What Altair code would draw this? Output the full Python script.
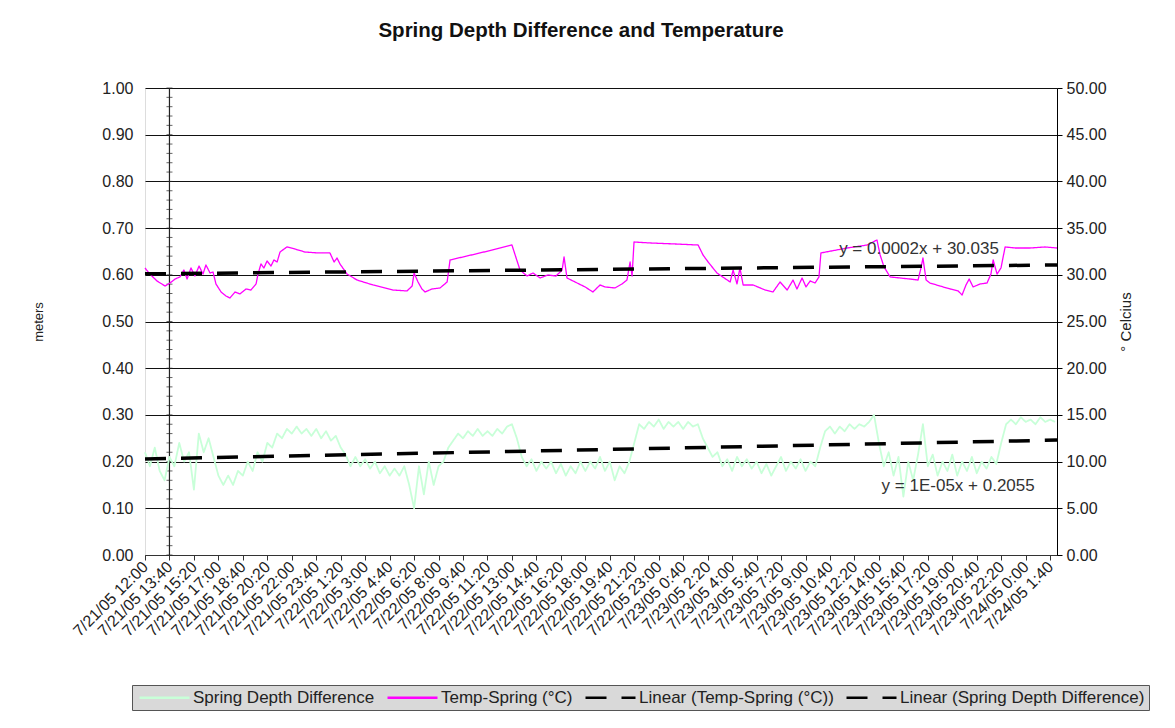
import json
import altair as alt
import pandas as pd

# ---------------- data ----------------
tick_labels = [
    "7/21/05 12:00", "7/21/05 13:40", "7/21/05 15:20", "7/21/05 17:00", "7/21/05 18:40",
    "7/21/05 20:20", "7/21/05 22:00", "7/21/05 23:40", "7/22/05 1:20", "7/22/05 3:00",
    "7/22/05 4:40", "7/22/05 6:20", "7/22/05 8:00", "7/22/05 9:40", "7/22/05 11:20",
    "7/22/05 13:00", "7/22/05 14:40", "7/22/05 16:20", "7/22/05 18:00", "7/22/05 19:40",
    "7/22/05 21:20", "7/22/05 23:00", "7/23/05 0:40", "7/23/05 2:20", "7/23/05 4:00",
    "7/23/05 5:40", "7/23/05 7:20", "7/23/05 9:00", "7/23/05 10:40", "7/23/05 12:20",
    "7/23/05 14:00", "7/23/05 15:40", "7/23/05 17:20", "7/23/05 19:00", "7/23/05 20:40",
    "7/23/05 22:20", "7/24/05 0:00", "7/24/05 1:40",
]
tick_minutes = [100 * i for i in range(len(tick_labels))]  # minutes after 7/21/05 12:00
x_end_minute = 3728

# Spring Depth Difference (meters), sampled every 20 minutes
depth_values = [
    0.22, 0.19, 0.23, 0.18, 0.16, 0.21, 0.19, 0.24, 0.20, 0.22,
    0.14, 0.26, 0.22, 0.25, 0.21, 0.17, 0.15, 0.17, 0.15, 0.18,
    0.17, 0.20, 0.18, 0.22, 0.20, 0.24, 0.23, 0.26, 0.25, 0.27,
    0.26, 0.275, 0.26, 0.27, 0.255, 0.27, 0.25, 0.265, 0.245, 0.255,
    0.23, 0.215, 0.19, 0.21, 0.19, 0.205, 0.185, 0.20, 0.175, 0.19,
    0.17, 0.185, 0.17, 0.19, 0.15, 0.10, 0.19, 0.13, 0.20, 0.15,
    0.19, 0.20, 0.23, 0.245, 0.26, 0.25, 0.265, 0.255, 0.27, 0.255,
    0.265, 0.255, 0.27, 0.26, 0.275, 0.28, 0.25, 0.21, 0.19, 0.205,
    0.18, 0.20, 0.185, 0.20, 0.175, 0.195, 0.17, 0.19, 0.175, 0.20,
    0.18, 0.20, 0.185, 0.21, 0.18, 0.20, 0.16, 0.19, 0.175, 0.20,
    0.24, 0.28, 0.27, 0.285, 0.275, 0.29, 0.27, 0.285, 0.275, 0.285,
    0.27, 0.285, 0.275, 0.28, 0.25, 0.23, 0.21, 0.22, 0.19, 0.205,
    0.18, 0.21, 0.19, 0.205, 0.185, 0.20, 0.175, 0.195, 0.17, 0.19,
    0.21, 0.18, 0.20, 0.185, 0.205, 0.18, 0.20, 0.19, 0.23, 0.265,
    0.275, 0.26, 0.275, 0.265, 0.28, 0.27, 0.28, 0.275, 0.285, 0.30,
    0.24, 0.19, 0.22, 0.17, 0.21, 0.125, 0.20, 0.16, 0.215, 0.28,
    0.19, 0.215, 0.17, 0.20, 0.18, 0.215, 0.17, 0.20, 0.18, 0.21,
    0.175, 0.20, 0.185, 0.21, 0.195, 0.24, 0.28, 0.29, 0.28, 0.295,
    0.285, 0.29, 0.28, 0.295, 0.285, 0.29, 0.285,
]
depth_minutes = [20 * i for i in range(len(depth_values))]

# Temp-Spring (deg C), read at irregular minutes
temp_minutes = [
    0, 20, 49, 82, 102, 123, 143, 159, 172, 188, 204, 221, 237, 249, 266, 278, 290, 311, 331, 347,
    368, 388, 413, 433, 454, 462, 474, 486, 499, 515, 527, 540, 552, 580, 613, 654, 707, 756, 773, 785,
    797, 826, 867, 932, 1014, 1071, 1092, 1100, 1116, 1132, 1145, 1173, 1206, 1235, 1247, 1370, 1500, 1517, 1533, 1562,
    1586, 1615, 1647, 1680, 1705, 1713, 1725, 1758, 1799, 1831, 1860, 1881, 1921, 1950, 1970, 1983, 1991, 1999, 2064, 2167,
    2261, 2281, 2302, 2338, 2392, 2404, 2420, 2432, 2445, 2486, 2535, 2567, 2596, 2625, 2649, 2665, 2686, 2702, 2719, 2739,
    2755, 2763, 2870, 2952, 2992, 3005, 3021, 3046, 3086, 3127, 3160, 3172, 3180, 3193, 3209, 3250, 3291, 3324, 3340, 3356,
    3369, 3385, 3414, 3442, 3458, 3467, 3483, 3499, 3516, 3557, 3618, 3679, 3728,
]
temp_values = [
    30.73, 30.08, 29.34, 28.80, 29.12, 29.55, 29.77, 30.51, 29.55, 30.73, 29.87, 30.94, 30.08, 31.05, 30.19, 30.30, 29.02, 28.16, 27.73, 27.52,
    28.16, 27.95, 28.48, 28.37, 29.02, 30.08, 31.16, 30.73, 31.48, 30.94, 31.59, 31.37, 32.44, 32.98, 32.76, 32.44, 32.34, 32.34, 31.37, 31.80,
    31.16, 30.08, 29.44, 28.91, 28.37, 28.27, 28.80, 30.19, 29.23, 28.48, 28.16, 28.48, 28.59, 29.23, 31.59, 32.34, 33.19, 31.80, 30.51, 29.87,
    30.19, 29.66, 29.98, 29.87, 30.51, 31.91, 29.66, 29.23, 28.70, 28.16, 28.91, 28.70, 28.59, 29.02, 29.44, 31.37, 29.87, 33.51, 33.41, 33.30,
    33.19, 32.12, 31.37, 30.19, 29.23, 30.51, 29.02, 30.73, 28.91, 28.91, 28.37, 28.16, 29.23, 28.37, 29.44, 28.48, 29.66, 28.70, 29.34, 29.12,
    29.77, 32.34, 32.87, 33.19, 33.73, 32.12, 30.84, 29.77, 29.66, 29.55, 29.44, 30.73, 31.80, 29.44, 29.12, 28.80, 28.48, 28.27, 27.84, 28.91,
    29.55, 28.70, 29.02, 29.12, 30.08, 31.59, 30.08, 30.73, 32.98, 32.87, 32.87, 32.98, 32.87,
]

# Linear trend lines (end points)
trend_minutes = [0, x_end_minute]
temp_trend_values = [30.1, 31.05]
depth_trend_values = [0.2055, 0.246]

# Trend equation labels
temp_eq_text = "y = 0.0002x + 30.035"
temp_eq_pos = [3164, 32.76]
depth_eq_text = "y = 1E-05x + 0.2055"
depth_eq_pos = [3324, 0.148]

series_names = [
    "Spring Depth Difference",
    "Temp-Spring (°C)",
    "Linear (Temp-Spring (°C))",
    "Linear (Spring Depth Difference)",
]
series_colors = ["#c8ffd8", "#ff00ff", "#000000", "#000000"]
series_dash = [[1, 0], [1, 0], [21, 15], [21, 15]]

left_ticks = [0.0, 0.1, 0.2, 0.3, 0.4, 0.5, 0.6, 0.7, 0.8, 0.9, 1.0]
right_ticks = [0, 5, 10, 15, 20, 25, 30, 35, 40, 45, 50]
minor_ticks = [round(0.02 * i, 2) for i in range(51)]
value_axis_minute = 100  # the value axis crosses at 7/21/05 13:40

# ---------------- tables ----------------
depth_df = pd.DataFrame({"minute": depth_minutes, "value": depth_values, "series": series_names[0]})
temp_df = pd.DataFrame({"minute": temp_minutes, "value": temp_values, "series": series_names[1]})
temp_trend_df = pd.DataFrame({"minute": trend_minutes, "value": temp_trend_values, "series": series_names[2]})
depth_trend_df = pd.DataFrame({"minute": trend_minutes, "value": depth_trend_values, "series": series_names[3]})
minor_df = pd.DataFrame({"minute": value_axis_minute, "value": minor_ticks})
vline_df = pd.DataFrame({"minute": [value_axis_minute], "lo": [0.0], "hi": [1.0]})
temp_eq_df = pd.DataFrame({"minute": [temp_eq_pos[0]], "value": [temp_eq_pos[1]], "text": [temp_eq_text]})
depth_eq_df = pd.DataFrame({"minute": [depth_eq_pos[0]], "value": [depth_eq_pos[1]], "text": [depth_eq_text]})

FONT = "Liberation Sans"

label_expr = json.dumps(tick_labels) + "[round(datum.value / 100)]"
x_axis = alt.Axis(
    values=tick_minutes, labelExpr=label_expr, title=None, labelAngle=315,
    labelAlign="right", labelBaseline="middle", labelPadding=4, labelOverlap=False,
    labelFlush=False, labelBound=False, labelFontSize=16, labelColor="#222", labelFont=FONT,
    domainColor="#333", tickColor="#333", tickSize=5, grid=False,
)
x_enc = alt.X("minute:Q", scale=alt.Scale(domain=[0, x_end_minute], nice=False, zero=False), axis=x_axis)

legend = alt.Legend(
    orient="none", legendX=-13, legendY=597, direction="horizontal", title=None,
    fillColor="#d9d9d9", strokeColor="#555", padding=4, symbolType="M-1,0H9",
    symbolSize=100, symbolStrokeWidth=2.5, labelFontSize=17, labelFont=FONT,
    labelColor="#222", labelOffset=40, columnPadding=7, labelLimit=400,
)
color_enc = alt.Color("series:N", scale=alt.Scale(domain=series_names, range=series_colors), legend=legend)
dash_enc = alt.StrokeDash("series:N", scale=alt.Scale(domain=series_names, range=series_dash), legend=legend)

left_y = alt.Y(
    "value:Q", scale=alt.Scale(domain=[0, 1], nice=False, zero=True),
    axis=alt.Axis(
        values=left_ticks, format=".2f", title="meters", orient="left", domain=False,
        ticks=False, labelPadding=12, labelFontSize=16, labelFont=FONT, labelColor="#222",
        grid=True, gridColor="#111", gridWidth=1, titleFontSize=13, titleFont=FONT,
        titleFontWeight="normal", titleColor="#222", titlePadding=56,
    ),
)
right_y = alt.Y(
    "value:Q", scale=alt.Scale(domain=[0, 50], nice=False, zero=True),
    axis=alt.Axis(
        values=right_ticks, format=".2f", title="° Celcius", orient="right", domain=True,
        domainColor="#000", tickColor="#000", tickSize=5, labelPadding=4, labelFontSize=16,
        labelFont=FONT, labelColor="#222", grid=False, titleFontSize=15, titleFont=FONT,
        titleFontWeight="normal", titleColor="#222", titleAngle=270, titlePadding=27,
    ),
)

def series_line(df, y, width):
    return alt.Chart(df).mark_line(strokeJoin="round", strokeWidth=width).encode(
        x=x_enc, y=y, color=color_enc, strokeDash=dash_enc)

depth_line = series_line(depth_df, left_y, 1.8)
depth_trend = series_line(depth_trend_df, left_y, 3.5)
vline = alt.Chart(vline_df).mark_rule(color="#222", strokeWidth=1.2).encode(
    x=x_enc, y="lo:Q", y2="hi:Q")
minor = alt.Chart(minor_df).mark_tick(orient="horizontal", size=6, thickness=1, color="#222").encode(
    x=x_enc, y=left_y)
depth_eq = alt.Chart(depth_eq_df).mark_text(font=FONT, fontSize=17, color="#333").encode(
    x=x_enc, y=left_y, text="text:N")

temp_line = series_line(temp_df, right_y, 1.3)
temp_trend = series_line(temp_trend_df, right_y, 3.5)
temp_eq = alt.Chart(temp_eq_df).mark_text(font=FONT, fontSize=17, color="#333").encode(
    x=x_enc, y=right_y, text="text:N")

left_layer = alt.layer(vline, minor, depth_line, depth_trend, depth_eq)
right_layer = alt.layer(temp_line, temp_trend, temp_eq)

chart = alt.layer(left_layer, right_layer).resolve_scale(y="independent").properties(
    width=912, height=467,
    autosize=alt.AutoSizeParams(type="none"),
    padding={"left": 137, "top": 80, "right": 110, "bottom": 158},
    title=alt.TitleParams(
        "Spring Depth Difference and Temperature", font=FONT, fontSize=20.5,
        fontWeight="bold", color="#111", anchor="middle", dx=-20, offset=39,
    ),
).configure_view(fill="#dcdcdc", stroke="#8a8a8a", strokeWidth=1).configure(background="white")

chart.save("out.html", embed_options={"renderer": "svg", "actions": False})
